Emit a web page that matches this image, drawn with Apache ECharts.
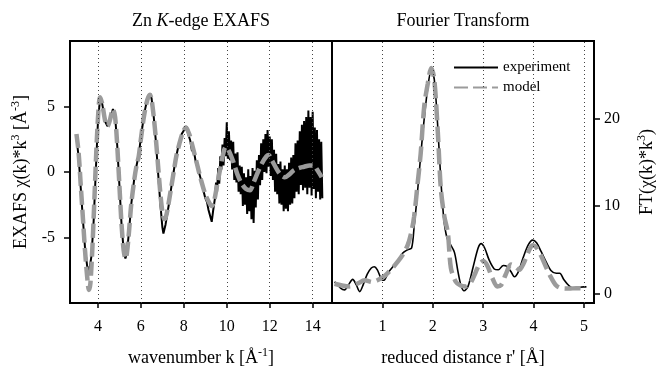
<!DOCTYPE html>
<html>
<head>
<meta charset="utf-8">
<script src="https://cdn.jsdelivr.net/npm/echarts@6/dist/echarts.min.js"></script>
<style>html,body{margin:0;padding:0;background:#fff;}#c{width:661px;height:369px;}</style>
</head>
<body>
<div id="c"></div>
<script>
// ---- Left panel: EXAFS chi(k)*k^3 ----
const expK = [3.00,3.10,3.20,3.30,3.40,3.50,3.60,3.70,3.80,3.90,4.00,4.10,4.20,4.35,4.45,4.55,4.70,4.80,4.90,5.00,5.10,5.20,5.28,5.35,5.45,5.55,5.70,5.80,5.90,6.00,6.15,6.30,6.43,6.50,6.60,6.70,6.80,6.90,7.00,7.05,7.15,7.30,7.45,7.60,7.75,7.90,8.05,8.12,8.20,8.30,8.38,8.45,8.55,8.62,8.70,8.80,8.85,8.92,9.00,9.08,9.15,9.22,9.30,9.37,9.45,
9.50,9.55,9.60,9.65,9.70,9.75,9.80,9.85,9.90,9.95,10.00,10.05,10.10,10.15,10.20,10.25,10.30,10.35,10.40,10.45,10.50,10.55,10.60,10.65,10.70,10.75,10.80,10.85,10.90,10.95,11.00,11.05,11.10,11.15,11.20,11.25,11.30,11.35,11.40,11.45,11.50,11.55,11.60,11.65,11.70,11.75,11.80,11.85,11.90,11.95,12.00,12.05,12.10,12.15,12.20,12.25,12.30,12.35,12.40,12.45,12.50,12.55,12.60,12.65,12.70,12.75,12.80,12.85,12.90,12.95,13.00,13.05,13.10,13.15,13.20,13.25,13.30,13.35,13.40,13.45,13.50,13.55,13.60,13.65,13.70,13.75,13.80,13.85,13.90,13.95,14.00,14.05,14.10,14.15,14.20,14.25,14.30,14.35,14.40,14.45];
const expChi = [2.6,1.2,-1.2,-3.6,-5.8,-7.2,-7.5,-6.4,-3.8,0.0,3.8,5.6,5.2,3.8,3.5,3.9,4.8,4.3,2.0,-1.0,-4.0,-6.0,-6.6,-6.2,-4.5,-2.5,-0.4,0.5,1.3,2.6,4.4,5.6,6.0,5.6,4.2,2.3,0.0,-2.3,-4.2,-4.7,-4.0,-2.5,-0.8,0.8,2.0,2.9,3.3,3.5,2.9,2.4,1.6,1.8,0.8,0.9,0.0,-0.6,-1.0,-1.1,-2.0,-2.3,-2.9,-3.0,-3.8,-2.9,-2.0,
-0.8,-1.5,0.3,-0.9,1.2,0.2,2.1,0.5,2.6,1.2,3.8,1.0,3.1,0.9,2.4,0.2,2.3,-0.6,1.4,-0.8,1.5,-1.5,0.5,-1.7,0.4,-2.6,-0.1,-2.5,-0.4,-3.2,0.2,-3.0,-0.3,-3.6,0.3,-3.9,0.1,-2.7,0.9,-2.1,1.3,-1.0,2.2,-0.6,2.5,0.0,2.9,-0.1,3.2,0.4,2.7,-0.3,2.5,-0.6,1.7,-1.5,1.4,-1.7,0.6,-2.4,0.8,-2.5,0.2,-3.0,0.5,-2.8,0.2,-3.0,0.7,-2.5,1.1,-2.4,1.3,-2.0,2.2,-1.5,2.4,-1.7,3.1,-1.0,3.6,-1.4,3.9,-1.2,4.2,-1.7,4.7,-1.2,4.2,-1.8,4.6,-1.3,3.4,-2.0,3.2,-1.5,2.5,-2.1,2.3,-2.0];
const modelK = [3.00,3.10,3.20,3.30,3.40,3.50,3.58,3.65,3.75,3.85,3.95,4.05,4.10,4.20,4.35,4.45,4.55,4.70,4.80,4.90,5.00,5.10,5.20,5.28,5.35,5.45,5.55,5.70,5.80,5.90,6.00,6.15,6.30,6.42,6.50,6.60,6.70,6.80,6.90,7.00,7.10,7.20,7.35,7.50,7.65,7.80,7.95,8.10,8.25,8.40,8.60,8.80,9.00,9.20,9.30,9.40,9.55,9.70,9.85,9.95,10.10,10.30,10.50,10.70,10.90,11.08,11.25,11.45,11.65,11.85,11.95,12.10,12.30,12.50,12.70,12.90,13.10,13.35,13.60,13.85,14.05,14.20,14.35,14.42];
const modelChi = [2.9,1.5,-1.0,-3.5,-6.0,-8.0,-9.0,-8.5,-5.5,-1.5,2.5,5.3,5.7,5.2,3.8,3.5,3.9,4.8,4.2,2.0,-1.0,-4.0,-6.0,-6.6,-6.2,-4.5,-2.5,-0.5,0.5,1.2,2.5,4.3,5.5,5.9,5.5,4.2,2.5,0.5,-1.5,-3.0,-3.6,-3.2,-1.8,-0.3,1.2,2.2,3.0,3.4,2.9,2.0,0.7,-0.6,-1.7,-2.4,-2.6,-2.3,-1.0,0.3,1.5,1.9,1.6,0.8,-0.2,-0.9,-1.3,-1.4,-0.8,0.0,0.7,1.2,1.3,0.9,0.3,-0.2,-0.4,-0.2,0.1,0.3,0.4,0.5,0.5,0.2,-0.2,-0.4];
const kTicks = [4,6,8,10,12,14];
const chiTicks = [-5,0,5];

// ---- Right panel: Fourier transform ----
const ftR = [0.05,0.10,0.17,0.25,0.33,0.41,0.48,0.55,0.62,0.70,0.78,0.84,0.90,0.95,1.00,1.05,1.12,1.20,1.30,1.40,1.50,1.58,1.63,1.68,1.73,1.78,1.83,1.90,1.97,2.03,2.10,2.16,2.22,2.28,2.35,2.43,2.50,2.56,2.62,2.70,2.80,2.90,2.96,3.03,3.12,3.22,3.30,3.40,3.47,3.55,3.62,3.70,3.80,3.90,3.98,4.06,4.15,4.25,4.35,4.45,4.52,4.60,4.70,4.78,4.90,5.00,5.05];
const ftExp = [1.3,1.1,0.6,0.4,1.0,1.6,1.0,0.2,1.0,2.2,2.9,3.05,2.7,2.0,1.5,1.6,2.4,3.0,3.6,4.6,5.0,5.2,7.6,10.5,13.8,17.0,20.0,23.5,25.6,24.5,19.0,13.0,8.5,6.4,5.6,4.7,2.5,0.9,0.3,0.8,3.0,5.2,5.7,5.2,3.8,2.8,2.7,3.2,3.1,2.5,1.9,2.5,4.2,5.6,6.1,5.8,4.8,3.6,2.6,2.3,2.3,1.6,0.9,0.6,0.7,0.75,0.75];
const ftRModel = [0.05,0.20,0.35,0.50,0.65,0.80,0.90,1.00,1.10,1.20,1.30,1.40,1.50,1.57,1.63,1.70,1.76,1.83,1.90,1.97,2.03,2.10,2.16,2.23,2.30,2.36,2.46,2.55,2.65,2.75,2.85,2.93,3.00,3.08,3.18,3.28,3.35,3.45,3.55,3.65,3.72,3.80,3.90,3.98,4.05,4.15,4.25,4.35,4.45,4.55,4.70,4.85,5.00];
const ftModel = [1.1,0.9,0.8,1.1,1.5,1.3,1.5,1.8,2.3,2.9,3.6,4.4,5.5,6.9,8.8,12.6,16.0,21.4,24.0,25.8,24.5,18.5,12.0,8.8,6.9,2.9,1.3,0.9,0.8,1.2,2.4,3.4,3.7,3.2,1.8,0.8,0.9,2.2,3.3,3.0,2.7,3.4,4.8,5.5,5.3,4.3,3.0,1.8,0.9,0.6,0.55,0.6,0.55];
const rTicks = [1,2,3,4,5];
const ftTicks = [0,10,20];

const zip = (a, b) => a.map((x, i) => [x, b[i]]);
const FONT = 'Liberation Serif';
const GRAY = '#9b9b9b';
const sup = { fontFamily: FONT, fontSize: 12, verticalAlign: 'top', color: '#000' };
const gridLine = { type: [1, 3], color: '#444', width: 1 };
const tickStyle = { color: '#000', width: 1.5 };

const chart = echarts.init(document.getElementById('c'), null, { renderer: 'canvas' });
chart.setOption({
  animation: false,
  backgroundColor: '#fff',
  textStyle: { fontFamily: FONT, color: '#000' },
  title: [
    { text: 'Zn {it|K}-edge EXAFS', left: 201, top: 12, padding: 0, textAlign: 'center',
      textStyle: { fontFamily: FONT, fontSize: 18, fontWeight: 'normal', color: '#000',
        rich: { it: { fontFamily: FONT, fontSize: 18, fontStyle: 'italic', color: '#000' } } } },
    { text: 'Fourier Transform', left: 463, top: 12, padding: 0, textAlign: 'center',
      textStyle: { fontFamily: FONT, fontSize: 18, fontWeight: 'normal', color: '#000' } }
  ],
  legend: {
    data: ['experiment', 'model'],
    orient: 'vertical', left: 448, top: 48,
    padding: [12, 17, 16, 5], itemGap: 5, itemWidth: 44, itemHeight: 14,
    backgroundColor: '#fff',
    itemStyle: { opacity: 0 },
    textStyle: { fontFamily: FONT, fontSize: 15, color: '#000' }
  },
  grid: [
    { left: 70, top: 41, width: 262, height: 262, outerBoundsMode: 'none', containLabel: false,
      show: true, borderColor: '#000', borderWidth: 2, backgroundColor: 'transparent' },
    { left: 332, top: 41, width: 262, height: 262, outerBoundsMode: 'none', containLabel: false,
      show: true, borderColor: '#000', borderWidth: 2, backgroundColor: 'transparent' }
  ],
  xAxis: [
    { type: 'value', gridIndex: 0, min: 2.7, max: 14.9, position: 'bottom',
      name: 'wavenumber k [Å{sup|-1}]', nameLocation: 'middle', nameGap: 44,
      nameTextStyle: { fontFamily: FONT, fontSize: 18, color: '#000', lineHeight: 22, rich: { sup } },
      axisLine: { show: false, onZero: false },
      axisTick: { show: true, customValues: kTicks, length: 5, lineStyle: tickStyle },
      axisLabel: { customValues: kTicks, margin: 16, fontFamily: FONT, fontSize: 16, color: '#000' },
      splitLine: { show: false } },
    { type: 'value', gridIndex: 1, min: 0, max: 5.2, position: 'bottom',
      name: "reduced distance r' [Å]", nameLocation: 'middle', nameGap: 44,
      nameTextStyle: { fontFamily: FONT, fontSize: 18, color: '#000', lineHeight: 22 },
      axisLine: { show: false, onZero: false },
      axisTick: { show: true, customValues: rTicks, length: 5, lineStyle: tickStyle },
      axisLabel: { customValues: rTicks, margin: 16, fontFamily: FONT, fontSize: 16, color: '#000' },
      splitLine: { show: false } }
  ],
  yAxis: [
    { type: 'value', gridIndex: 0, min: -10, max: 10, position: 'left',
      name: 'EXAFS χ(k)*k{sup|3} [Å{sup|-3}]', nameLocation: 'middle', nameGap: 38,
      nameTextStyle: { fontFamily: FONT, fontSize: 18, color: '#000', lineHeight: 22, rich: { sup } },
      axisLine: { show: false, onZero: false },
      axisTick: { show: true, customValues: chiTicks, length: 6, lineStyle: tickStyle },
      axisLabel: { customValues: chiTicks, margin: 15, align: 'right', fontFamily: FONT, fontSize: 16, color: '#000' },
      splitLine: { show: false } },
    { type: 'value', gridIndex: 1, min: -1.1, max: 28.9, position: 'right',
      name: 'FT(χ(k)*k{sup|3})', nameLocation: 'middle', nameGap: 42,
      nameTextStyle: { fontFamily: FONT, fontSize: 18, color: '#000', lineHeight: 22, rich: { sup } },
      axisLine: { show: false, onZero: false },
      axisTick: { show: true, customValues: ftTicks, length: 6, lineStyle: tickStyle },
      axisLabel: { customValues: ftTicks, margin: 10, align: 'left', fontFamily: FONT, fontSize: 16, color: '#000' },
      splitLine: { show: false } }
  ],
  series: [
    { type: 'line', xAxisIndex: 0, yAxisIndex: 0, data: [], z: 1, silent: true,
      markLine: { silent: true, symbol: 'none', label: { show: false }, lineStyle: gridLine,
        data: kTicks.map(v => ({ xAxis: v })) } },
    { type: 'line', xAxisIndex: 1, yAxisIndex: 1, data: [], z: 1, silent: true,
      markLine: { silent: true, symbol: 'none', label: { show: false }, lineStyle: gridLine,
        data: rTicks.map(v => ({ xAxis: v })) } },
    { name: 'experiment', type: 'line', xAxisIndex: 0, yAxisIndex: 0, z: 2,
      data: zip(expK, expChi), showSymbol: false, symbol: 'none',
      lineStyle: { color: '#000', width: 2 }, itemStyle: { color: '#000' } },
    { name: 'model', type: 'line', xAxisIndex: 0, yAxisIndex: 0, z: 3,
      data: zip(modelK, modelChi), showSymbol: false, symbol: 'none', smooth: 0.3,
      lineStyle: { color: GRAY, width: 4.5, type: [14, 5] }, itemStyle: { color: GRAY } },
    { name: 'experiment', type: 'line', xAxisIndex: 1, yAxisIndex: 1, z: 2,
      data: zip(ftR, ftExp), showSymbol: false, symbol: 'none', smooth: 0.3,
      lineStyle: { color: '#000', width: 1.6 }, itemStyle: { color: '#000' } },
    { name: 'model', type: 'line', xAxisIndex: 1, yAxisIndex: 1, z: 3,
      data: zip(ftRModel, ftModel), showSymbol: false, symbol: 'none', smooth: 0.3,
      lineStyle: { color: GRAY, width: 4.5, type: [16, 6] }, itemStyle: { color: GRAY } }
  ]
});
</script>
</body>
</html>
